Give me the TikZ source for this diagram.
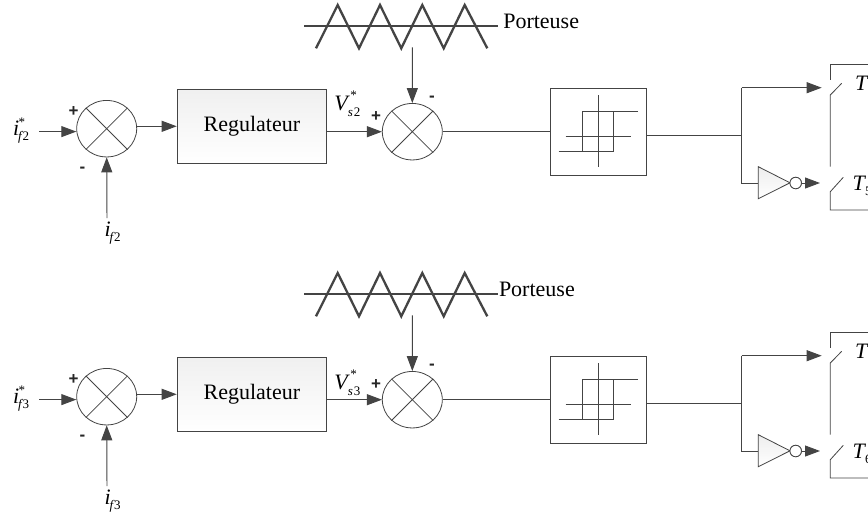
\documentclass[tikz,border=0pt]{standalone}
\usepackage{fontspec}
\setmainfont{Liberation Serif}
\newfontfamily\signfont{Liberation Sans}
\usetikzlibrary{arrows.meta,shapes.geometric}
\pgfdeclarelayer{bg}
\pgfsetlayers{bg,main}
\definecolor{inkc}{HTML}{444444}
\definecolor{shadowc}{HTML}{D4D4D4}
\colorlet{wirec}{inkc}
\newcommand\BigF{\fontsize{22}{24}\selectfont}
\newcommand\SmallF{\fontsize{13}{14}\selectfont}
\newcommand\CurI[1]{{\BigF\textit{i}}\raisebox{-5pt}{\SmallF\kern-1pt\textit{f}\kern-0.5pt #1}}
\newcommand\CurIS[1]{{\BigF\textit{i}}\rlap{\raisebox{9pt}{\SmallF\kern-0.5pt *}}\raisebox{-5pt}{\SmallF\kern-1pt\textit{f}\kern-0.5pt #1}}
\newcommand\VolS[1]{{\BigF\textit{V}}\rlap{\raisebox{11pt}{\SmallF\kern0.5pt *}}\raisebox{-6pt}{\SmallF\kern-2pt\textit{s}\kern1pt #1}}
\newcommand\Sw[1]{{\BigF\textit{T}}\raisebox{-5pt}{\SmallF\kern-1pt #1}}
\tikzset{
  x=1pt,y=-1pt,
  sumnode/.style={ellipse,draw=inkc,line width=0.8pt,fill=white,minimum width=60pt,minimum height=56.5pt,inner sep=0pt},
  regnode/.style={rectangle,draw=inkc,line width=0.9pt,top color=black!6,bottom color=white,minimum width=149.5pt,minimum height=74pt,inner sep=0pt,font=\BigF},
  hystnode/.style={rectangle,draw=inkc,line width=0.9pt,fill=white,minimum width=96pt,minimum height=86.7pt,inner sep=0pt},
  bubble/.style={circle,draw=inkc,line width=0.8pt,fill=white,minimum size=11.5pt,inner sep=0pt},
  lbl/.style={anchor=base west,inner sep=0pt,outer sep=0pt},
  sign/.style={anchor=center,inner sep=0pt,font=\signfont\bfseries\fontsize{17}{17}\selectfont,text=black!85},
  wire/.style={draw=wirec,line width=0.95pt},
  thin wire/.style={draw=wirec,line width=0.8pt},
  arrowed/.style={wire,-{Triangle[length=15pt,width=11pt,fill=wirec]}},
  wave/.style={draw=wirec,line width=2.3pt,line join=miter},
  invtri/.style={draw=wirec,line width=0.8pt},
}
% wires of one row, drawn twice (shadow, then ink)
\newcommand\Wires[1]{%
  \draw[wave] (316,48.3) -- (337.7,5) -- (359,48.3) -- (380,5) -- (401.3,48.3) -- (422.3,5) -- (443.7,48.3) -- (464.7,5) -- (487.3,48.3);
  \draw[wave] (304.3,26) -- (#1pwire);
  \draw[arrowed] (#1in) -- (#1sumA.west |- #1in);
  \draw[arrowed] (#1meas) -- (#1sumA.south);
  \draw[arrowed] (#1sumA.east |- #1reg.west) -- (#1reg.west);
  \draw[arrowed] (#1reg.east |- #1sumB.west) -- (#1sumB.west);
  \draw[arrowed] (#1car) -- (#1sumB.north);
  \draw[wire] (#1sumB.east) -- (#1hyst.west |- #1sumB.east);
  \draw[wire] (#1hyst.east |- #1jct) -- (#1jct);
  \draw[wire] (#1jctt) -- (#1jctb) -- (#1invin);
  \draw[arrowed] (#1jctt) -- (#1swA);
  \draw[arrowed] (#1bub.east) -- (#1swB);
  \draw[thin wire] (598.3,95) -- (598.3,166.7);
  \draw[thin wire] (565.7,136) -- (631,136);
  \draw[thin wire] (638,111.7) -- (582.7,111.7) -- (582.7,151);
  \draw[thin wire] (558.7,151) -- (613.3,151) -- (613.3,111.7);
  \draw[thin wire] (868,64) -- (830.3,64) -- (830.3,80);
  \draw[thin wire] (841.7,83.3) -- (830.3,95) -- (830.3,166.7);
  \draw[thin wire] (843.3,177.3) -- (830.3,191.7) -- (830.3,210) -- (868,210);
  \draw[invtri] (758.3,166.7) -- (790,182.8) -- (758.3,198.7) -- cycle;
}
% #1 prefix, #2 index, #3 porteuse x, #4 V baseline, #5 T up, #6 T down
\newcommand\RowFig[6]{%
  \coordinate (#1in) at (39,131.6);
  \coordinate (#1meas) at (107,218);
  \coordinate (#1car) at (412.4,47.3);
  \coordinate (#1jct) at (741.7,135.7);
  \coordinate (#1jctt) at (741.7,87.7);
  \coordinate (#1jctb) at (741.7,183);
  \coordinate (#1swA) at (821.7,87.7);
  \coordinate (#1swB) at (820,183);
  \coordinate (#1invin) at (758.3,183);
  \coordinate (#1pwire) at (498.3,26);
  \node[sumnode] (#1sumA) at (106.7,128.7) {};
  \draw[thin wire] (#1sumA.135) -- (#1sumA.-45) (#1sumA.45) -- (#1sumA.-135);
  \node[regnode] (#1reg) at (251.9,126.3) {Regulateur};
  \node[sumnode] (#1sumB) at (412.3,131.7) {};
  \draw[thin wire] (#1sumB.135) -- (#1sumB.-45) (#1sumB.45) -- (#1sumB.-135);
  \node[hystnode] (#1hyst) at (598.3,131.65) {};
  \node[bubble] (#1bub) at (795.7,183) {};
  \begin{pgfonlayer}{bg}
    \begin{scope}[transform canvas={shift={(2.2pt,-2.2pt)}}]
      \colorlet{wirec}{shadowc}
      \Wires{#1}
      \draw[draw=shadowc,line width=1.3pt] (#1sumA.center) ellipse [x radius=30,y radius=28.2];
      \draw[draw=shadowc,line width=1.3pt] (#1sumB.center) ellipse [x radius=30,y radius=28.2];
      \draw[draw=shadowc,line width=1.3pt] (#1reg.south west) rectangle (#1reg.north east);
      \draw[draw=shadowc,line width=1.3pt] (#1hyst.south west) rectangle (#1hyst.north east);
      \draw[draw=shadowc,line width=1.3pt] (#1bub.center) circle [radius=5.8];
    \end{scope}
  \end{pgfonlayer}
  \path[top color=black!7,bottom color=white] (758.3,166.7) -- (790,182.8) -- (758.3,198.7) -- cycle;
  \Wires{#1}
  \node[bubble] (#1bubb) at (795.7,183) {};
  \node[lbl] (#1linA) at (13,135) {\CurIS{#2}};
  \node[lbl] (#1linB) at (104.5,236.5) {\CurI{#2}};
  \node[lbl] (#1linV) at (334.3,#4) {\VolS{#2}};
  \node[lbl] (#1linP) at (#3,28.8) {\BigF Porteuse};
  \node[lbl] (#1linT) at (855,90) {\Sw{#5}};
  \node[lbl] (#1linU) at (852.7,190.5) {\Sw{#6}};
  \node[sign] (#1pA) at (73.5,112) {+};
  \node[sign] (#1mA) at (82.5,170) {-};
  \node[sign] (#1pB) at (376,116.5) {+};
  \node[sign] (#1mB) at (432,98.7) {-};
}
\begin{document}
\begin{tikzpicture}
  \useasboundingbox (0,0) rectangle (868,517);
  \fill[white] (0,0) rectangle (868,517);
  \begin{scope}
    \RowFig{a}{2}{503.3}{110}{2}{5}
  \end{scope}
  \begin{scope}[yshift=-268pt]
    \RowFig{b}{3}{499}{121}{3}{6}
  \end{scope}
\end{tikzpicture}
\end{document}
